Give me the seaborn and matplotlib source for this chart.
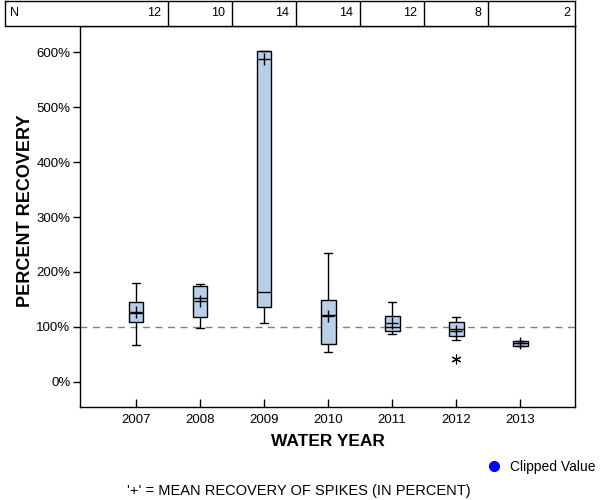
import pandas as pd
import matplotlib
matplotlib.use("Agg")
import matplotlib.pyplot as plt
from matplotlib.lines import Line2D
import seaborn as sns

# ------ Dados (em %) ------ #
years = ["2007", "2008", "2009", "2010", "2011", "2012", "2013"]
n_samples = [12, 10, 14, 14, 12, 8, 2]
whisker_low = [67, 98.5, 107, 54, 87.6, 76, 65]
q1 = [109, 118, 136, 69, 92.5, 83.4, 65]
median = [125.4, 152.7, 163.7, 121.7, 100.4, 96.7, 70]
q3 = [145.4, 174.6, 603, 149.6, 119.9, 109, 74.3]
whisker_high = [180, 178, 603, 235.4, 145.4, 118, 74.3]
means = [126.5, 146.5, 587.6, 120.4, 107, 92.5, 70]
outlier_years = ["2012"]
outlier_values = [41.4]
y_ticks = [0, 100, 200, 300, 400, 500, 600]

# cada caixa e montada a partir dos cinco valores resumo
rows = []
for i, yr in enumerate(years):
    for v in (whisker_low[i], q1[i], median[i], q3[i], whisker_high[i]):
        rows.append({"year": yr, "recovery": v})
df = pd.DataFrame(rows)

sns.set_style("ticks")
plt.rcParams['font.family'] = ['Liberation Sans', 'DejaVu Sans']
plt.rcParams['text.color'] = 'black'
plt.rcParams['axes.labelcolor'] = 'black'
plt.rcParams['xtick.color'] = 'black'
plt.rcParams['ytick.color'] = 'black'

fig = plt.figure(figsize=(6, 5), dpi=100)
ax = fig.add_axes([80 / 600, 93 / 500, 495 / 600, 381 / 500])

ax.axhline(100, color="#808080", ls=(0, (5, 4)), lw=1, zorder=0)

sns.boxplot(data=df, x="year", y="recovery", order=years, whis=(0, 100),
            width=0.234, color="#b9cfe8", saturation=1, linecolor="black",
            linewidth=1, fliersize=0, ax=ax)

sns.pointplot(x=years, y=means, order=years, linestyle="none", marker="+",
              markersize=9, markeredgewidth=1, color="black", errorbar=None, ax=ax)

sns.pointplot(x=outlier_years, y=outlier_values, order=years, linestyle="none",
              marker=(6, 2, 0), markersize=7, markeredgewidth=0.8, color="black",
              errorbar=None, ax=ax)

xmin, xmax = -0.875, 6.859
ax.set_xlim(xmin, xmax)
ax.set_ylim(-46, 648)
ax.set_yticks(y_ticks)
ax.set_yticklabels([f"{v}%" for v in y_ticks])

for s in ax.spines.values():
    s.set_visible(True)
    s.set_color("black")
    s.set_linewidth(1)

ax.tick_params(axis="x", direction="in", length=6, width=1, pad=5, labelsize=9.5,
               colors="black")
ax.tick_params(axis="y", direction="out", length=5, width=1, pad=2, labelsize=9.5,
               colors="black")

ax.set_xlabel("WATER YEAR", fontsize=12.5, fontweight="bold", color="black")
ax.set_ylabel("PERCENT RECOVERY", fontsize=13, fontweight="bold", color="black")
ax.xaxis.set_label_coords(0.5, -0.072)
ax.yaxis.set_label_coords(-0.093, 0.514)

# ------ Tabela de N no topo ------ #
px = (xmax - xmin) / 495
tab = fig.add_axes([5 / 600, 474 / 500, 570 / 600, 25 / 500])
tab.set_xlim(xmin - 75 * px, xmax)
tab.set_ylim(0, 1)
tab.set_xticks([])
tab.set_yticks([])
for s in tab.spines.values():
    s.set_visible(True)
    s.set_color("black")
    s.set_linewidth(1)
tab.text(xmin - 70 * px, 0.5, "N", ha="left", va="center", fontsize=9)
for i, n in enumerate(n_samples):
    if i < len(n_samples) - 1:
        edge = i + 0.5
        tab.axvline(edge, color="black", lw=1)
        tab.text(edge - 7 * px, 0.5, str(n), ha="right", va="center", fontsize=9)
    else:
        tab.text(xmax - 5 * px, 0.5, str(n), ha="right", va="center", fontsize=9)

# ------ Legenda e nota ------ #
handle = Line2D([], [], marker="o", color="blue", ls="none", markersize=7)
fig.legend([handle], ["Clipped Value"], loc="center right",
           bbox_to_anchor=(596 / 600, 1 - 467 / 500), frameon=False,
           fontsize=10, borderpad=0, borderaxespad=0, handlelength=1,
           handletextpad=0.7)

fig.text(299 / 600, 1 - 491 / 500, "'+' = MEAN RECOVERY OF SPIKES (IN PERCENT)",
         ha="center", va="center", fontsize=10.5)

fig.savefig("out.png", dpi=100)
